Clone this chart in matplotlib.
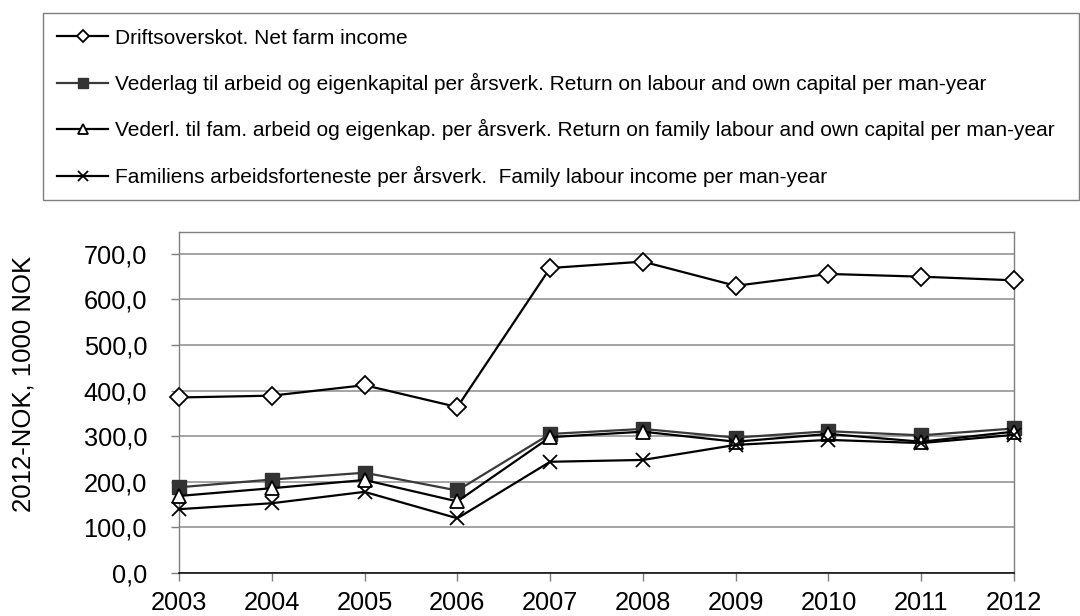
import matplotlib
matplotlib.use("Agg")
import matplotlib.pyplot as plt
from matplotlib.lines import Line2D
from matplotlib.patches import Rectangle
from matplotlib.ticker import FuncFormatter

plt.rcParams['font.family'] = ['Liberation Sans', 'DejaVu Sans']

years = [2003, 2004, 2005, 2006, 2007, 2008, 2009, 2010, 2011, 2012]
net_farm_income = [385, 389, 412, 364, 669, 683, 630, 656, 650, 642]
return_labour_capital = [188, 205, 220, 181, 305, 316, 297, 311, 302, 317]
return_family_labour = [169, 186, 204, 157, 298, 310, 288, 305, 288, 310]
family_labour_income = [140, 153, 178, 120, 244, 248, 281, 292, 285, 303]

labels = [
    "Driftsoverskot. Net farm income",
    "Vederlag til arbeid og eigenkapital per årsverk. Return on labour and own capital per man-year",
    "Vederl. til fam. arbeid og eigenkap. per årsverk. Return on family labour and own capital per man-year",
    "Familiens arbeidsforteneste per årsverk.  Family labour income per man-year",
]

W, H = 1080, 616
fig = plt.figure(figsize=(W / 100, H / 100), dpi=100)

# plot area in pixels: left 179, right 1014, top 232, bottom 573
ax = fig.add_axes([179 / W, 1 - 573 / H, (1014 - 179) / W, (573 - 232) / H])

lw = 1.6
styles = [
    dict(color='black', marker='D', mfc='white', mec='black', ms=9, mew=1.3),
    dict(color='#3a3a3a', marker='s', mfc='#333333', mec='#333333', ms=10),
    dict(color='black', marker='^', mfc='white', mec='black', ms=10.5, mew=1.3),
    dict(color='black', marker='x', mec='black', ms=10, mew=1.3),
]
series = [net_farm_income, return_labour_capital, return_family_labour, family_labour_income]

for vals, st in zip(series, styles):
    ax.plot(years, vals, lw=lw, zorder=3, clip_on=False, **st)

ax.set_xlim(2003, 2012)
ax.set_ylim(0, 748)
ax.set_yticks(range(0, 701, 100))
ax.yaxis.set_major_formatter(FuncFormatter(lambda v, p: f"{v:.1f}".replace('.', ',')))
ax.set_xticks(years)
ax.grid(axis='y', color='#8c8c8c', lw=1.1, zorder=0)
ax.set_axisbelow(True)

for side in ['left', 'right', 'top']:
    ax.spines[side].set_color('#7f7f7f')
    ax.spines[side].set_linewidth(1.0)
ax.spines['bottom'].set_color('black')
ax.spines['bottom'].set_linewidth(1.1)
ax.tick_params(axis='both', direction='out', length=6, color='#7f7f7f', width=1.0,
               labelsize=18.3)
ax.tick_params(axis='y', pad=17)
ax.tick_params(axis='x', pad=7)

fig.text(24 / W, 1 - 384 / H, "2012-NOK, 1000 NOK", rotation=90, fontsize=18.5,
         ha='center', va='center')

# legend box
fig.patches.append(Rectangle((43 / W, 1 - 200 / H), (1079 - 43) / W, (200 - 13) / H,
                             transform=fig.transFigure, fill=False, edgecolor='#7f7f7f',
                             lw=1.0))

handles = []
for st in styles:
    st2 = dict(st)
    st2['ms'] = st['ms'] * 0.7
    handles.append(Line2D([0], [0], lw=lw, **st2))

fig.legend(handles, labels, loc='upper left', bbox_to_anchor=(57 / W, 1 - 28.5 / H),
           frameon=False, fontsize=15, handlelength=2.45, handletextpad=0.34,
           labelspacing=1.22, borderpad=0, borderaxespad=0)

fig.savefig("out.png", dpi=100)
